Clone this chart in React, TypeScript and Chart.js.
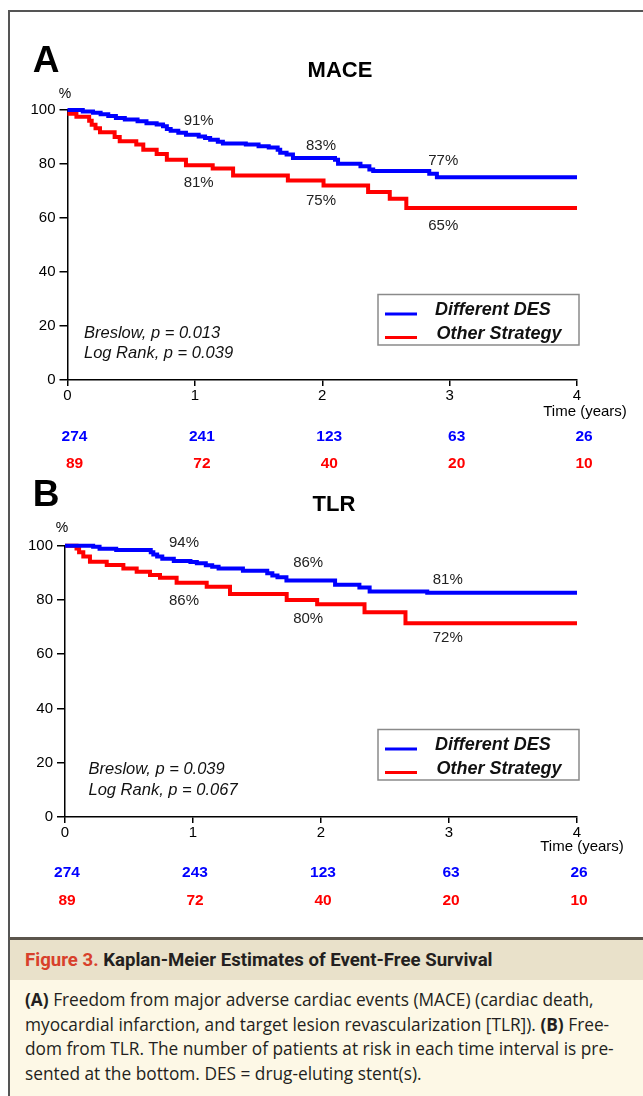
import React, { useEffect, useRef } from 'react';
import Chart from 'chart.js/auto';

// ---------------- DATA ----------------
const timeTicks = [0, 1, 2, 3, 4];
const seriesNames = ['Different DES', 'Other Strategy'];

// Panel A: MACE
const maceDesTime = [0, 0.12, 0.2, 0.26, 0.32, 0.38, 0.45, 0.55, 0.62, 0.7, 0.75, 0.78, 0.81, 0.87, 0.93, 1.03, 1.08, 1.12, 1.18, 1.22, 1.4, 1.5, 1.58, 1.65, 1.67, 1.72, 1.77, 2.1, 2.124, 2.3, 2.37, 2.4, 2.84, 2.9, 4.0];
const maceDesSurv = [100, 99.4, 99.0, 98.4, 97.8, 97.0, 96.5, 95.8, 95.1, 94.6, 94.0, 93.0, 92.3, 91.6, 90.8, 90.2, 89.6, 89.0, 88.2, 87.6, 87.2, 86.6, 86.1, 85.3, 84.2, 83.5, 82.2, 81.6, 80.1, 79.2, 78.0, 77.4, 76.4, 75.1, 75.1];
const maceOtherTime = [0, 0.07, 0.17, 0.19, 0.22, 0.255, 0.37, 0.41, 0.54, 0.595, 0.7, 0.78, 0.93, 1.14, 1.3, 1.73, 2.01, 2.36, 2.53, 2.66, 4.0];
const maceOtherSurv = [98.6, 97.5, 96.0, 94.5, 93.2, 91.8, 90.0, 88.4, 87.2, 85.3, 83.7, 81.6, 79.5, 78.3, 75.7, 73.9, 72.0, 69.6, 67.1, 63.7, 63.7];
const maceAtRiskDes = [274, 241, 123, 63, 26];
const maceAtRiskOther = [89, 72, 40, 20, 10];
const maceLabelText = ['91%', '81%', '83%', '75%', '77%', '65%'];
const maceLabelX = [1.03, 1.03, 1.99, 1.99, 2.95, 2.95];
const maceLabelY = [95.9, 73.0, 86.7, 66.3, 81.1, 57.0];
const maceStats = ['Breslow, p = 0.013', 'Log Rank, p = 0.039'];

// Panel B: TLR
const tlrDesTime = [0, 0.22, 0.27, 0.4, 0.67, 0.69, 0.72, 0.76, 0.85, 0.98, 1.03, 1.1, 1.15, 1.2, 1.39, 1.58, 1.62, 1.66, 1.73, 2.11, 2.3, 2.38, 2.83, 4.0];
const tlrDesSurv = [100, 99.6, 98.9, 98.4, 97.6, 96.8, 96.0, 95.2, 94.4, 94.0, 93.5, 92.8, 92.2, 91.6, 90.8, 89.8, 89.0, 88.4, 87.2, 85.6, 84.6, 83.1, 82.7, 82.7];
const tlrOtherTime = [0, 0.09, 0.11, 0.143, 0.195, 0.326, 0.456, 0.56, 0.664, 0.742, 0.872, 1.107, 1.289, 1.732, 1.97, 2.34, 2.66, 4.0];
const tlrOtherSurv = [100, 99.0, 97.6, 96.0, 94.1, 92.9, 91.6, 90.4, 89.2, 88.2, 86.3, 84.9, 82.2, 80.0, 78.4, 75.5, 71.4, 71.4];
const tlrAtRiskDes = [274, 243, 123, 63, 26];
const tlrAtRiskOther = [89, 72, 40, 20, 10];
const tlrLabelText = ['94%', '86%', '86%', '80%', '81%', '72%'];
const tlrLabelX = [0.93, 0.93, 1.9, 1.9, 2.99, 2.99];
const tlrLabelY = [101.2, 79.8, 93.6, 73.0, 87.5, 66.1];
const tlrStats = ['Breslow, p = 0.039', 'Log Rank, p = 0.067'];

// ---------------- STYLE / LAYOUT ----------------
const F = "'Liberation Sans', Arial, Helvetica, sans-serif";
const BLUE = '#0000ff';
const RED = '#ff0000';
const W = 643;

type Panel = {
  letter: string; title: string;
  desT: number[]; desS: number[]; othT: number[]; othS: number[];
  riskDes: number[]; riskOth: number[];
  lblText: string[]; lblX: number[]; lblY: number[];
  stats: string[];
  height: number; areaLeft: number; areaRight: number; areaTop: number; areaBottom: number;
  letterY: number; titleX: number; titleY: number; pctX: number; pctY: number;
  statsX: number; statsY: number[];
  legX: number; legY: number;
  timeX: number; timeY: number;
  riskDx: number; riskY1: number; riskY2: number;
};

const panelA: Panel = {
  letter: 'A', title: 'MACE',
  desT: maceDesTime, desS: maceDesSurv, othT: maceOtherTime, othS: maceOtherSurv,
  riskDes: maceAtRiskDes, riskOth: maceAtRiskOther,
  lblText: maceLabelText, lblX: maceLabelX, lblY: maceLabelY, stats: maceStats,
  height: 478, areaLeft: 67.5, areaRight: 577, areaTop: 110, areaBottom: 380,
  letterY: 62, titleX: 340, titleY: 71, pctX: 65, pctY: 94,
  statsX: 84, statsY: [333, 353],
  legX: 378, legY: 294.5,
  timeX: 585, timeY: 411.5,
  riskDx: 7, riskY1: 436.7, riskY2: 463.3,
};

const panelB: Panel = {
  letter: 'B', title: 'TLR',
  desT: tlrDesTime, desS: tlrDesSurv, othT: tlrOtherTime, othS: tlrOtherSurv,
  riskDes: tlrAtRiskDes, riskOth: tlrAtRiskOther,
  lblText: tlrLabelText, lblX: tlrLabelX, lblY: tlrLabelY, stats: tlrStats,
  height: 458, areaLeft: 65, areaRight: 577, areaTop: 67.7, areaBottom: 339,
  letterY: 18, titleX: 334, titleY: 27, pctX: 62, pctY: 50,
  statsX: 88.5, statsY: [291.3, 312.7],
  legX: 378, legY: 251.5,
  timeX: 582, timeY: 368.7,
  riskDx: 2, riskY1: 394.7, riskY2: 423,
};

function drawText(ctx: CanvasRenderingContext2D, s: string, x: number, y: number, font: string, color: string, align: CanvasTextAlign = 'center') {
  ctx.font = font;
  ctx.fillStyle = color;
  ctx.textAlign = align;
  ctx.textBaseline = 'middle';
  ctx.fillText(s, x, y);
}

function decorPlugin(p: Panel) {
  return {
    id: 'decor' + p.letter,
    afterDraw(chart: any) {
      const ctx: CanvasRenderingContext2D = chart.ctx;
      const xs = chart.scales.x;
      const ys = chart.scales.y;
      ctx.save();
      drawText(ctx, p.letter, 46, p.letterY, `bold 37px ${F}`, '#000');
      drawText(ctx, p.title, p.titleX, p.titleY, `bold 22px ${F}`, '#000');
      drawText(ctx, '%', p.pctX, p.pctY, `14px ${F}`, '#000');
      p.stats.forEach((s, i) => drawText(ctx, s, p.statsX, p.statsY[i], `italic 16.5px ${F}`, '#111', 'left'));

      // legend box
      ctx.strokeStyle = '#8a8a8a';
      ctx.lineWidth = 1.5;
      ctx.strokeRect(p.legX, p.legY, 201, 50.5);
      const colors = [BLUE, RED];
      seriesNames.forEach((name, i) => {
        const ly = p.legY + 19.5 + i * 23.5;
        ctx.strokeStyle = colors[i];
        ctx.lineWidth = 3;
        ctx.beginPath();
        ctx.moveTo(p.legX + 7, ly);
        ctx.lineTo(p.legX + 39, ly);
        ctx.stroke();
        drawText(ctx, name, p.legX + 57 + i * 1.5, ly - 3.5, `italic bold 18px ${F}`, '#111', 'left');
      });

      // percentage annotations
      p.lblText.forEach((t, i) => {
        drawText(ctx, t, xs.getPixelForValue(p.lblX[i]), ys.getPixelForValue(p.lblY[i]), `15px ${F}`, '#222');
      });

      drawText(ctx, 'Time (years)', p.timeX, p.timeY, `15px ${F}`, '#000');

      timeTicks.forEach((t, i) => {
        const px = xs.getPixelForValue(t) + p.riskDx;
        drawText(ctx, String(p.riskDes[i]), px, p.riskY1, `bold 15.5px ${F}`, BLUE);
        drawText(ctx, String(p.riskOth[i]), px, p.riskY2, `bold 15.5px ${F}`, RED);
      });
      ctx.restore();
    },
  };
}

function buildConfig(p: Panel): any {
  const axisFont = { family: F, size: 15 };
  const gridCommon = { drawOnChartArea: false, drawTicks: true, color: '#000', lineWidth: 1.5 };
  return {
    type: 'line',
    data: {
      datasets: [
        {
          label: seriesNames[0],
          data: p.desT.map((t, i) => ({ x: t, y: p.desS[i] })),
          borderColor: BLUE, borderWidth: 4, stepped: true, pointRadius: 0, fill: false,
          clip: 8, borderJoinStyle: 'miter', borderCapStyle: 'butt',
        },
        {
          label: seriesNames[1],
          data: p.othT.map((t, i) => ({ x: t, y: p.othS[i] })),
          borderColor: RED, borderWidth: 4, stepped: true, pointRadius: 0, fill: false,
          clip: 8, borderJoinStyle: 'miter', borderCapStyle: 'butt',
        },
      ],
    },
    options: {
      responsive: false,
      animation: false,
      devicePixelRatio: 1,
      events: [],
      layout: {
        padding: { left: 0, right: W - p.areaRight, top: p.areaTop, bottom: p.height - p.areaBottom - 30 },
      },
      plugins: { legend: { display: false }, tooltip: { enabled: false }, title: { display: false } },
      scales: {
        x: {
          type: 'linear', min: 0, max: 4,
          afterBuildTicks: (s: any) => { s.ticks = timeTicks.map((v) => ({ value: v })); },
          ticks: { color: '#000', font: axisFont, padding: 1, maxRotation: 0, autoSkip: false },
          grid: { ...gridCommon, tickLength: 6 },
          border: { display: true, color: '#000', width: 1.5 },
          afterFit: (s: any) => { s.height = 30; },
        },
        y: {
          min: 0, max: 100,
          ticks: { stepSize: 20, color: '#000', font: axisFont, padding: 4 },
          grid: { ...gridCommon, tickLength: 8 },
          border: { display: true, color: '#000', width: 1.5 },
          afterFit: (s: any) => { s.width = p.areaLeft; },
        },
      },
    },
    plugins: [decorPlugin(p)],
  };
}

function KMPanel({ panel, top }: { panel: Panel; top: number }) {
  const ref = useRef<HTMLCanvasElement>(null);
  useEffect(() => {
    const chart = new Chart(ref.current as HTMLCanvasElement, buildConfig(panel));
    return () => chart.destroy();
  }, [panel]);
  return (
    <canvas
      ref={ref}
      width={W}
      height={panel.height}
      style={{ position: 'absolute', left: 0, top, width: W, height: panel.height }}
    />
  );
}

const captionLines: React.ReactNode[] = [
  <><b>(A)</b> Freedom from major adverse cardiac events (MACE) (cardiac death,</>,
  <>myocardial infarction, and target lesion revascularization [TLR]). <b>(B)</b> Free-</>,
  <>dom from TLR. The number of patients at risk in each time interval is pre-</>,
  <>sented at the bottom. DES = drug-eluting stent(s).</>,
];

export default function App() {
  return (
    <div style={{ position: 'absolute', left: 0, top: 0, width: W, height: 1096, overflow: 'hidden', background: '#fff' }}>
      <div style={{ position: 'absolute', left: 8, top: 10, width: 700, height: 1100, borderLeft: '2px solid #555', borderTop: '2px solid #555' }} />
      <KMPanel panel={panelA} top={0} />
      <KMPanel panel={panelB} top={478} />
      <div style={{ position: 'absolute', left: 9, top: 937, width: 640, height: 2.5, background: '#5b554c' }} />
      <div style={{ position: 'absolute', left: 10, top: 939.5, width: 640, height: 40.5, background: '#e9e1ca' }} />
      <div style={{ position: 'absolute', left: 10, top: 980, width: 640, height: 120, background: '#fdf8e6' }} />
      <div style={{ position: 'absolute', left: 25, top: 940, height: 40, lineHeight: '40px', fontFamily: "Roboto, 'Open Sans', sans-serif", fontWeight: 700, fontSize: 18.6, color: '#231f20', whiteSpace: 'nowrap' }}>
        <span style={{ color: '#d8402b' }}>Figure 3.</span> Kaplan-Meier Estimates of Event-Free Survival
      </div>
      {captionLines.map((ln, i) => (
        <div key={i} style={{ position: 'absolute', left: 25, top: 988 + i * 24.6, height: 24, lineHeight: '24px', fontFamily: "'Open Sans', sans-serif", fontSize: 17.3, color: '#231f20', whiteSpace: 'nowrap' }}>
          {ln}
        </div>
      ))}
    </div>
  );
}
